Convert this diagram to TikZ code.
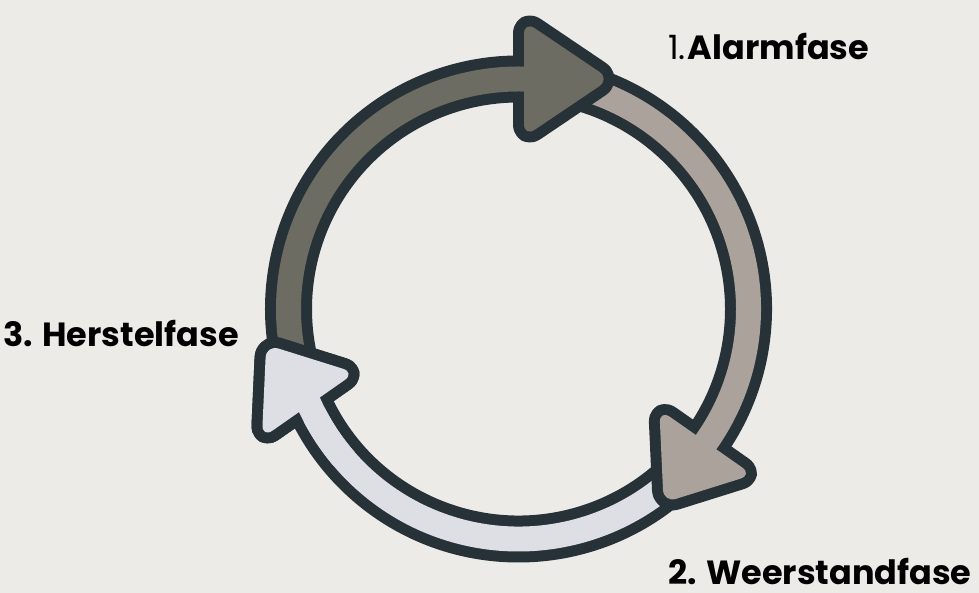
\documentclass[tikz,border=0pt]{standalone}
\usepackage{fontspec}
\setmainfont{Poppins}
\definecolor{bgc}{HTML}{ECEBE7}
\definecolor{olc}{HTML}{263238}
\definecolor{cA}{HTML}{6C6C62}
\definecolor{cB}{HTML}{AAA29B}
\definecolor{cC}{HTML}{DEDFE4}
\def\Ro{242.5pt}
\def\Ri{217.5pt}
\def\Rm{230pt}
% #1 tail angle, #2 base angle, #3 rotation, #4 fill, #5 head length, #6 name, #7 head half width
\newcommand\arrowgeom[7]{%
  \coordinate (#6b) at ([shift={(#2:\Rm)}]#2+#3-90:5.5pt);
  \coordinate (#6o) at ([shift={(#6b)}]#2+#3:#7);
  \coordinate (#6t) at ([shift={(#6b)}]#2+#3-90:#5);
  \coordinate (#6i) at ([shift={(#6b)}]#2+#3+180:#7);
  \def\bandpath{(#1:\Ro) arc[start angle=#1, end angle=#2-4, radius=\Ro]
    -- (#2-4:\Ri) arc[start angle=#2-4, end angle=#1, radius=\Ri] -- cycle}
  \def\headpath{(#6o) -- (#6t) -- (#6i) -- cycle}}
\newcommand\cyclearrow[7]{%
  \arrowgeom{#1}{#2}{#3}{#4}{#5}{#6}{#7}
  \draw[arrowline] \bandpath;
  \draw[arrowline, headround] \headpath;
  \fill[#4] \bandpath;
  \fill[#4, headround] \headpath;}
% head only, drawn again on top (band fill limited to the head's surroundings)
\newcommand\cyclehead[7]{%
  \arrowgeom{#1}{#2}{#3}{#4}{#5}{#6}{#7}
  \draw[arrowline, headround] \headpath;
  \begin{scope}
    \clip (#2:\Rm) circle (60pt);
    \fill[#4] \bandpath;
  \end{scope}
  \fill[#4, headround] \headpath;}
\tikzset{
  arrowline/.style={draw=olc, line width=22pt, line join=round},
  headround/.style={rounded corners=13pt},
  lbl/.style={anchor=base west, inner sep=0pt, text=black, font=\fontsize{33.5pt}{40pt}\selectfont}
}
\begin{document}
\begin{tikzpicture}
\fill[bgc] (-518.5pt,-284pt) rectangle (460.5pt,309pt);
\useasboundingbox (-518.5pt,-284pt) rectangle (460.5pt,309pt);
\cyclearrow{320}{206}{9}{cC}{74pt}{c}{57pt}
\cyclearrow{82}{-34}{-1}{cB}{74pt}{b}{57pt}
\cyclearrow{198}{90}{0}{cA}{86pt}{a}{58pt}
\cyclehead{320}{206}{9}{cC}{74pt}{d}{57pt}
\node[lbl] (t1) at (149.5pt,249pt) {1.\hspace{2pt}\textbf{Alarmfase}};
\node[lbl] (t2) at (149.5pt,-275pt) {\textbf{2. Weerstandfase}};
\node[lbl] (t3) at (-515.5pt,-38pt) {\textbf{3. Herstelfase}};
\end{tikzpicture}
\end{document}
